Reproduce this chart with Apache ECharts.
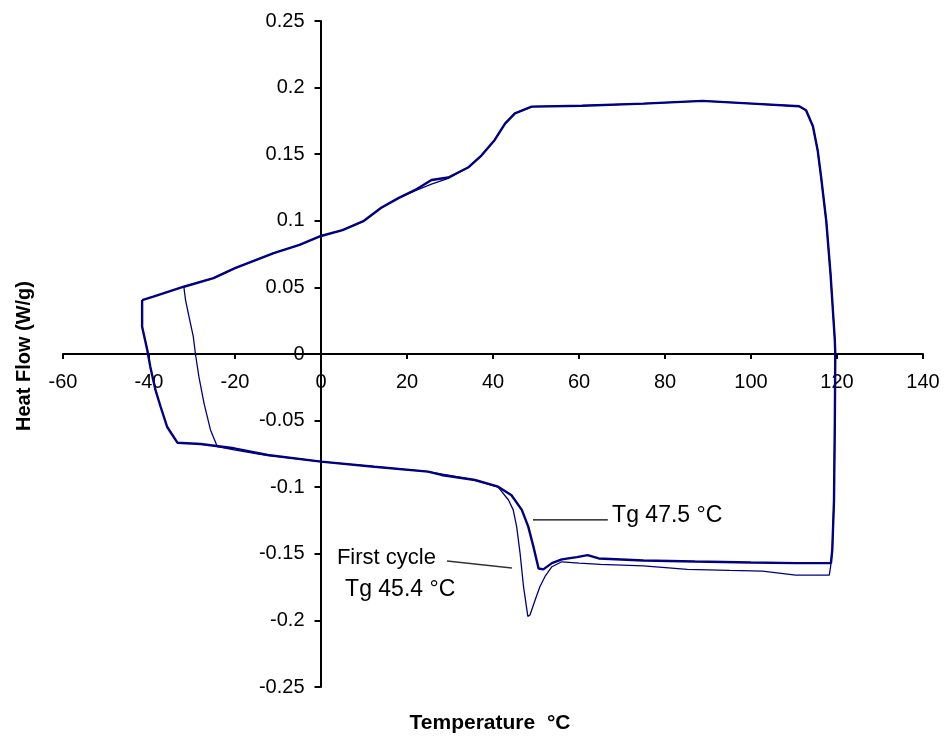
<!DOCTYPE html>
<html>
<head>
<meta charset="utf-8">
<script src="https://cdn.jsdelivr.net/npm/echarts@6/dist/echarts.min.js"></script>
<style>
  html, body { margin: 0; padding: 0; background: #ffffff; }
  #chart { width: 944px; height: 736px; }
</style>
</head>
<body>
<div id="chart"></div>
<script>
// DSC heat-flow loops: [temperature °C, heat flow W/g]
// First cycle (thin trace, deeper glass-transition dip)
var firstCycle = [
  [-31.9, 0.0505], [-25, 0.057], [-20, 0.0645], [-11, 0.0758], [-5, 0.082],
  [0, 0.0886], [5, 0.093], [10, 0.100], [14, 0.1098], [18, 0.117],
  [21.8, 0.1225], [25.7, 0.1275], [29.6, 0.1318], [34.2, 0.140], [37.3, 0.149],
  [40.4, 0.1607], [42.8, 0.173], [45.1, 0.1807], [49, 0.1857], [60.7, 0.1864],
  [75, 0.188], [88.7, 0.190], [100.3, 0.188], [111.2, 0.186], [112.8, 0.183],
  [114.4, 0.171], [115.5, 0.153], [116.3, 0.133], [117.5, 0.100], [118.5, 0.060],
  [119.1, 0.030], [119.5, 0.010], [119.6, 0], [119.5, -0.050], [119.3, -0.110],
  [118.9, -0.147], [118.5, -0.160], [118.2, -0.166], [110.4, -0.166], [102.7, -0.163],
  [95, -0.1625], [85.2, -0.1617], [75, -0.159], [65, -0.158], [60, -0.157],
  [56, -0.156], [53.7, -0.1597], [52.1, -0.167], [50.9, -0.1747], [49.8, -0.1847],
  [48.6, -0.196], [48.1, -0.197], [47.1, -0.1747], [46.3, -0.1497], [45.5, -0.1296],
  [44.7, -0.117], [43.6, -0.1096], [41.2, -0.1000], [35.8, -0.0946], [24.9, -0.0883],
  [12.4, -0.0846], [0, -0.0808], [-12.4, -0.0760], [-14.8, -0.0750], [-20.2, -0.0720],
  [-24.1, -0.0696], [-25.7, -0.057], [-27.2, -0.037], [-28.4, -0.017], [-29.2, 0],
  [-29.7, 0.013], [-30.7, 0.028], [-31.5, 0.0405], [-31.9, 0.0505]
];

// Second cycle (thick trace)
var secondCycle = [
  [-41.6, 0.0405], [-39, 0.043], [-31.9, 0.0505], [-25, 0.057], [-20, 0.0645],
  [-11, 0.0758], [-5, 0.082], [0, 0.0886], [5, 0.093], [10, 0.100],
  [14, 0.1098], [18, 0.117], [21.8, 0.123], [25.7, 0.1306], [29.6, 0.1325],
  [34.2, 0.140], [37.3, 0.149], [40.4, 0.1607], [42.8, 0.173], [45.1, 0.1807],
  [49, 0.1857], [60.7, 0.1864], [75, 0.188], [88.7, 0.190], [100.3, 0.188],
  [111.2, 0.186], [112.8, 0.183], [114.4, 0.171], [115.5, 0.153], [116.3, 0.133],
  [117.5, 0.100], [118.5, 0.060], [119.1, 0.030], [119.5, 0.010], [119.6, 0],
  [119.5, -0.050], [119.3, -0.110], [118.9, -0.147], [118.6, -0.157], [110.4, -0.157],
  [100, -0.1565], [87, -0.1558], [75, -0.155], [64.6, -0.1535], [62, -0.151],
  [59.5, -0.1525], [56, -0.1542], [53.7, -0.157], [51.7, -0.1617], [50.6, -0.161],
  [49.4, -0.1446], [48.2, -0.1296], [46.7, -0.117], [44.3, -0.106], [41.2, -0.0996],
  [35.8, -0.0946], [28, -0.0908], [24.9, -0.0883], [12.4, -0.0846], [0, -0.0808],
  [-12.4, -0.0758], [-20.2, -0.0708], [-28, -0.0676], [-33.4, -0.0666], [-35.8, -0.0546],
  [-37.3, -0.0396], [-38.5, -0.027], [-39.7, -0.0095], [-40.4, 0.003], [-41.6, 0.0205],
  [-41.6, 0.0405]
];

// Axis ranges and tick steps
var xRange = [-60, 140], xStep = 20;
var yRange = [-0.25, 0.25], yStep = 0.05;

// Text annotations placed in data coordinates
var glassLabels = [
  { text: 'Tg 47.5 °C', at: [67.7, -0.1216], size: 23 },
  { text: 'First cycle', at: [3.7, -0.1532], size: 22 },
  { text: 'Tg 45.4 °C', at: [5.6, -0.1772], size: 23 }
];
var leaderLines = [
  { from: [49.3, -0.1246], to: [66.7, -0.1246], color: '#000000', width: 1.2 },
  { from: [29.3, -0.1554], to: [44.4, -0.1607], color: '#333333', width: 1.6 }
];

var FONT = 'Arial, "Liberation Sans", sans-serif';
var NAVY = '#000080';

var chart = echarts.init(document.getElementById('chart'), null, { renderer: 'canvas' });

function roundLabel(v) {
  return String(+v.toFixed(2));
}

var axisCommon = {
  type: 'value',
  axisLine: { onZero: false, lineStyle: { color: '#000', width: 2 } },
  splitLine: { show: false }
};

chart.setOption({
  animation: false,
  backgroundColor: '#ffffff',
  grid: { left: 63, right: 21, top: 21, bottom: 49, containLabel: false },
  xAxis: echarts.util.merge({
    min: xRange[0], max: xRange[1], interval: xStep,
    axisTick: { show: true, length: 5, lineStyle: { color: '#000', width: 2 } },
    axisLabel: { margin: 18, color: '#000', fontSize: 20, fontFamily: FONT, formatter: roundLabel }
  }, axisCommon),
  yAxis: echarts.util.merge({
    min: yRange[0], max: yRange[1], interval: yStep,
    axisTick: { show: true, length: 6, lineStyle: { color: '#000', width: 2 } },
    axisLabel: { margin: 16, color: '#000', fontSize: 20, fontFamily: FONT, formatter: roundLabel }
  }, axisCommon),
  series: [
    {
      name: 'Second cycle', type: 'line', data: secondCycle,
      showSymbol: false, symbol: 'none', smooth: false,
      lineStyle: { color: NAVY, width: 2.4 }, z: 2
    },
    {
      name: 'First cycle', type: 'line', data: firstCycle,
      showSymbol: false, symbol: 'none', smooth: false,
      lineStyle: { color: NAVY, width: 1.3 }, z: 3
    }
  ]
});

// Move both axes (line, ticks and labels together) onto the origin
var origin = chart.convertToPixel({ gridIndex: 0 }, [0, 0]);
var lowerLeft = chart.convertToPixel({ gridIndex: 0 }, [xRange[0], yRange[0]]);
chart.setOption({
  xAxis: { offset: -(lowerLeft[1] - origin[1]) },
  yAxis: { offset: -(origin[0] - lowerLeft[0]) }
});

// Axis titles and annotations
var graphics = [
  {
    type: 'text', x: 24, y: 356, rotation: Math.PI / 2,
    style: { text: 'Heat Flow (W/g)', fill: '#000', font: 'bold 20px ' + FONT, align: 'center', verticalAlign: 'middle' }
  },
  {
    type: 'text', x: 490, y: 723,
    style: { text: 'Temperature  °C', fill: '#000', font: 'bold 21px ' + FONT, align: 'center', verticalAlign: 'middle' }
  }
];
leaderLines.forEach(function (l) {
  var a = chart.convertToPixel({ gridIndex: 0 }, l.from);
  var b = chart.convertToPixel({ gridIndex: 0 }, l.to);
  graphics.push({
    type: 'line',
    shape: { x1: a[0], y1: a[1], x2: b[0], y2: b[1] },
    style: { stroke: l.color, lineWidth: l.width }
  });
});
glassLabels.forEach(function (t) {
  var p = chart.convertToPixel({ gridIndex: 0 }, t.at);
  graphics.push({
    type: 'text', x: p[0], y: p[1],
    style: { text: t.text, fill: '#000', font: t.size + 'px ' + FONT, align: 'left', verticalAlign: 'middle' }
  });
});
chart.setOption({ graphic: graphics });
</script>
</body>
</html>
